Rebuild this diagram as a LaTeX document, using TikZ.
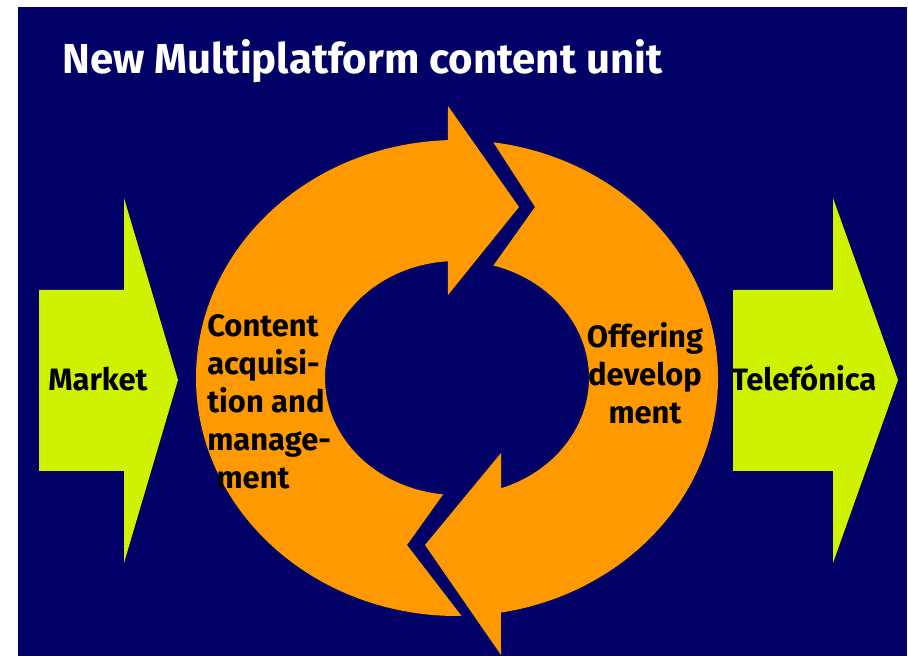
\documentclass[tikz,border=0pt]{standalone}
\usepackage{fontspec}
\setmainfont{Fira Sans}
\usetikzlibrary{positioning}
\definecolor{navyBg}{RGB}{0,0,102}
\definecolor{ringOr}{RGB}{255,153,0}
\definecolor{limeArr}{RGB}{206,242,0}

\begin{document}
\begin{tikzpicture}[
  x=0.025cm, y=0.025cm,
  ringpart/.style={fill=ringOr},
  flowarrow/.style={fill=limeArr},
  lbl/.style={font=\bfseries\fontsize{22}{27}\selectfont,
    text=black, inner sep=0pt},
  ttl/.style={font=\bfseries\fontsize{29.8}{34}\selectfont,
    text=white, inner sep=0pt}
]
\useasboundingbox (0,0) rectangle (908,656);
\fill[navyBg] (18,0) rectangle (907,649);

\coordinate (ctr) at (457,278);

% outer flow arrows
\fill[flowarrow] (39,366) -- (124,366) -- (124,458) -- (178,276)
  -- (124,93) -- (124,185) -- (39,185) -- cycle;
\fill[flowarrow] (733,366) -- (833,366) -- (833,458) -- (898,276)
  -- (833,93) -- (833,185) -- (733,185) -- cycle;

% left half of the cycle, head on top
\fill[ringpart] ([shift={(ctr)}]271:261 and 238)
  arc[start angle=271, end angle=92, x radius=261, y radius=238]
  -- (448,550) -- (519,449) -- (448,361)
  -- ([shift={(ctr)}]94:132 and 117)
  arc[start angle=94, end angle=264, x radius=132, y radius=117]
  -- (407,111) -- cycle;

% right half of the cycle, head at the bottom
\fill[ringpart] ([shift={(ctr)}]82:261 and 238)
  arc[start angle=82, end angle=-80.3, x radius=261, y radius=238]
  -- (501,1) -- (425,111) -- (501,203)
  -- ([shift={(ctr)}]-70.5:132 and 117)
  arc[start angle=-70.5, end angle=74, x radius=132, y radius=117]
  -- (535,449) -- cycle;

\node[ttl, anchor=base west] (title) at (62,582)
  {New Multiplatform content unit};

\node[lbl, anchor=base west] (market) at (48,265) {Market};
\node[lbl, anchor=base west] (telefonica) at (731,265) {Telefónica};

\node[lbl, align=left, anchor=north west] (acquisition) at (207,342)
  {Content\\acquisi-\\tion and\\manage-\\\hspace{0.3em}ment};
\node[lbl, align=center, anchor=north] (offering) at (645,334)
  {Offering\\develop\\ment};

\end{tikzpicture}
\end{document}
